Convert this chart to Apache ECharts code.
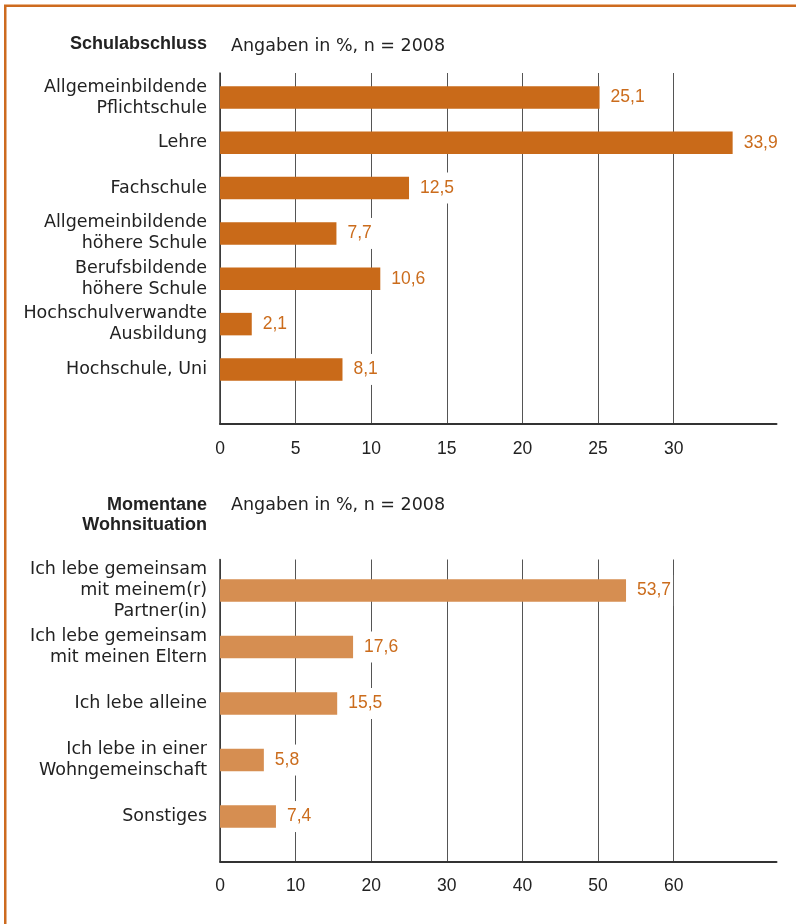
<!DOCTYPE html>
<html>
<head>
<meta charset="utf-8">
<script src="https://cdn.jsdelivr.net/npm/echarts@6/dist/echarts.min.js"></script>
<style>
html,body{margin:0;padding:0;background:#fff;}
#chart{width:796px;height:924px;}
</style>
</head>
<body>
<div id="chart"></div>
<script>
// ---- data ----
const schoolCategories = ["Allgemeinbildende\nPflichtschule", "Lehre", "Fachschule", "Allgemeinbildende\nhöhere Schule", "Berufsbildende\nhöhere Schule", "Hochschulverwandte\nAusbildung", "Hochschule, Uni"];
const schoolValues = [25.1, 33.9, 12.5, 7.7, 10.6, 2.1, 8.1];
const schoolTicks = [0, 5, 10, 15, 20, 25, 30];

const livingCategories = ["Ich lebe gemeinsam\nmit meinem(r)\nPartner(in)", "Ich lebe gemeinsam\nmit meinen Eltern", "Ich lebe alleine", "Ich lebe in einer\nWohngemeinschaft", "Sonstiges"];
const livingValues = [53.7, 17.6, 15.5, 5.8, 7.4];
const livingTicks = [0, 10, 20, 30, 40, 50, 60];

const title1 = "Schulabschluss";
const title2 = "Momentane\nWohnsituation";
const subtitle = "Angaben in %, n = 2008";

// ---- styles ----
const TEXT = "'DejaVu Sans', sans-serif";
const NUM = "'Liberation Sans', Arial, sans-serif";
const ORANGE = '#C96A19';
const ORANGE_LIGHT = '#D68E51';
const LABEL_ORANGE = '#CB6C1C';

const chart = echarts.init(document.getElementById('chart'), null, {renderer: 'canvas'});

function fmt(v) { return String(v).replace('.', ','); }

function axisFrame(gridIdx, max, ticks) {
  return {
    gridIndex: gridIdx, type: 'value', min: 0, max: max,
    axisLine: {show: true, lineStyle: {color: '#333', width: 2}},
    axisTick: {show: false, customValues: ticks},
    axisLabel: {show: true, customValues: ticks, color: '#222', fontFamily: NUM, fontSize: 17.5, margin: 16,
      formatter: v => String(v)},
    splitLine: {show: true, lineStyle: {color: '#555', width: 1}}
  };
}
function hiddenX(gridIdx, max) {
  return {gridIndex: gridIdx, type: 'value', min: 0, max: max, show: false, splitLine: {show: false}};
}
function frameY(gridIdx) {
  return {gridIndex: gridIdx, type: 'value', min: 0, max: 1,
    axisLine: {show: true, lineStyle: {color: '#333', width: 1.5}},
    axisTick: {show: false}, axisLabel: {show: false}, splitLine: {show: false}};
}
function catY(gridIdx, cats) {
  return {gridIndex: gridIdx, type: 'category', data: cats, inverse: true,
    axisLine: {show: false}, axisTick: {show: false},
    axisLabel: {color: '#222', fontFamily: TEXT, fontSize: 17.5, lineHeight: 21, margin: 13, align: 'right'},
    splitLine: {show: false}};
}
function barSeries(idx, values, color) {
  return {
    type: 'bar', xAxisIndex: idx, yAxisIndex: idx, data: values, barWidth: 22.5,
    itemStyle: {color: color}, z: 3,
    label: {show: true, position: 'right', distance: 9, formatter: p => fmt(p.value),
      color: LABEL_ORANGE, fontFamily: NUM, fontSize: 17.5, lineHeight: 19,
      backgroundColor: '#fff', padding: [6, 2, 6, 2]}
  };
}

const option = {
  animation: false,
  backgroundColor: '#fff',
  grid: [
    {left: 220, right: 19.5, top: 73, height: 351},      // 0 top frame
    {left: 220, right: 19.5, top: 74.8, height: 317.3},  // 1 top bars
    {left: 220, right: 19.5, top: 559.5, height: 301.8}, // 2 bottom frame
    {left: 220, right: 19.5, top: 562.3, height: 282.5}  // 3 bottom bars
  ],
  xAxis: [
    axisFrame(0, 36.8, schoolTicks),
    hiddenX(1, 36.8),
    axisFrame(2, 73.6, livingTicks),
    hiddenX(3, 73.6)
  ],
  yAxis: [
    frameY(0),
    catY(1, schoolCategories),
    frameY(2),
    catY(3, livingCategories)
  ],
  series: [
    {type: 'bar', xAxisIndex: 0, yAxisIndex: 0, data: []},
    barSeries(1, schoolValues, ORANGE),
    {type: 'bar', xAxisIndex: 2, yAxisIndex: 2, data: []},
    barSeries(3, livingValues, ORANGE_LIGHT)
  ],
  graphic: [
    {type: 'rect', shape: {x: 4, y: 4, width: 792, height: 1}, style: {fill: '#E9B48A'}, silent: true},
    {type: 'rect', shape: {x: 4, y: 5, width: 792, height: 2}, style: {fill: '#CD6B1F'}, silent: true},
    {type: 'rect', shape: {x: 4, y: 5, width: 2.5, height: 919}, style: {fill: '#CD6B1F'}, silent: true},
    {type: 'text', x: 207, y: 44, style: {text: title1, font: "bold 18px 'Liberation Sans', Arial, sans-serif", fill: '#222', align: 'right', verticalAlign: 'middle'}},
    {type: 'text', x: 231, y: 46, style: {text: subtitle, font: "17.5px 'DejaVu Sans', sans-serif", fill: '#222', align: 'left', verticalAlign: 'middle'}},
    {type: 'text', x: 207, y: 515, style: {text: title2, font: "bold 18px 'Liberation Sans', Arial, sans-serif", lineHeight: 20, fill: '#222', align: 'right', verticalAlign: 'middle'}},
    {type: 'text', x: 231, y: 505, style: {text: subtitle, font: "17.5px 'DejaVu Sans', sans-serif", fill: '#222', align: 'left', verticalAlign: 'middle'}}
  ]
};
chart.setOption(option);
</script>
</body>
</html>
